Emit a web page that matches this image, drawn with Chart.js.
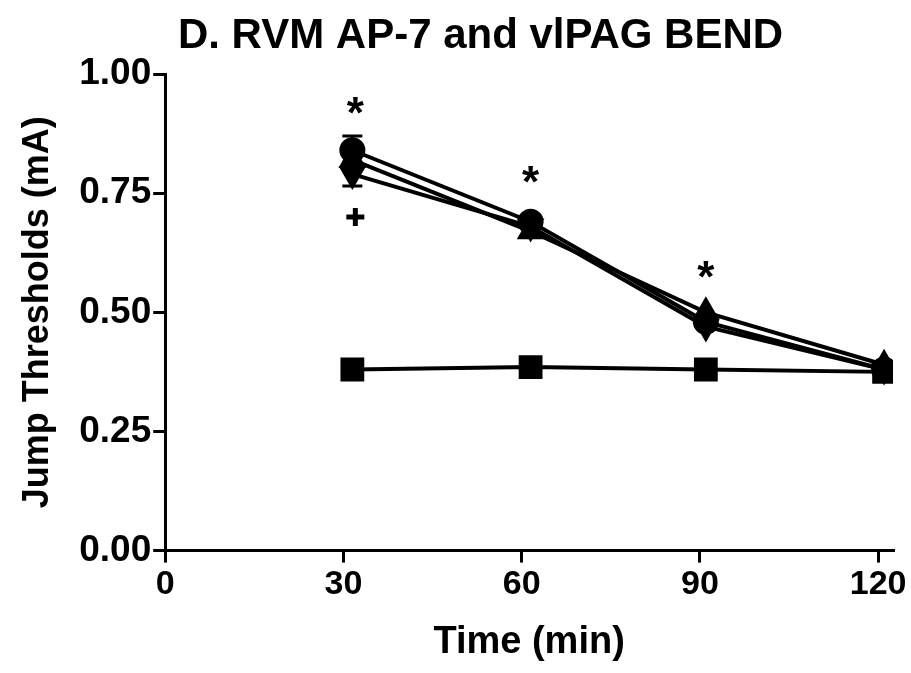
<!DOCTYPE html>
<html>
<head>
<meta charset="utf-8">
<script src="https://cdn.jsdelivr.net/npm/chart.js@4/dist/chart.umd.min.js"></script>
<style>
  body { margin: 0; background: #fff; }
</style>
</head>
<body>
<canvas id="myChart" width="911" height="673"></canvas>
<script>
// data (time in min, thresholds in mA)
const times = [31.5, 61.5, 91, 121];
const circles = [0.84, 0.69, 0.48, 0.38];
const upTriangles = [0.82, 0.67, 0.50, 0.39];
const downTriangles = [0.79, 0.68, 0.47, 0.38];
const squares = [0.38, 0.385, 0.38, 0.375];
const xTicks = [0, 30, 60, 90, 120];
const yTicks = [0, 0.25, 0.5, 0.75, 1];

// error bars: [x, y, sem]
const errBars = [[31.5, 0.84, 0.03], [31.5, 0.79, 0.025]];
// significance marks
const starX = [32, 61.5, 91];
const starY = [0.943, 0.798, 0.599];
const plusX = [32];
const plusY = [0.70];

const titleText = 'D. RVM AP-7 and vlPAG BEND';

const toPts = (ys) => ys.map((y, i) => ({ x: times[i], y: y }));

function serie(data, style, rot, r) {
    return {
        data: toPts(data),
        borderColor: '#000',
        backgroundColor: '#000',
        borderWidth: 4,
        pointStyle: style,
        rotation: rot,
        pointRadius: r,
        pointHoverRadius: r,
        showLine: true,
        tension: 0
    };
}

const font = '"Liberation Sans", Arial, sans-serif';

// title, error bars and asterisks
const marks = {
    id: 'marks',
    afterDatasetsDraw(chart) {
        const ctx = chart.ctx;
        const xs = chart.scales.x, ys = chart.scales.y;
        ctx.save();
        ctx.strokeStyle = '#000';
        ctx.lineWidth = 3;
        errBars.forEach(([x, y, e]) => {
            const px = xs.getPixelForValue(x);
            const top = ys.getPixelForValue(y + e);
            const bot = ys.getPixelForValue(y - e);
            ctx.beginPath();
            ctx.moveTo(px, top); ctx.lineTo(px, bot);
            ctx.moveTo(px - 10, top); ctx.lineTo(px + 10, top);
            ctx.moveTo(px - 10, bot); ctx.lineTo(px + 10, bot);
            ctx.stroke();
        });
        ctx.fillStyle = '#000';
        ctx.textAlign = 'center';
        ctx.textBaseline = 'middle';
        ctx.font = 'bold 44px ' + font;
        starX.forEach((x, i) => {
            ctx.fillText('*', xs.getPixelForValue(x), ys.getPixelForValue(starY[i]) + 15);
        });
        ctx.font = 'bold 42px ' + font;
        ctx.fillText(titleText, chart.width / 2 + 25, 36);
        ctx.restore();
    }
};

new Chart(document.getElementById('myChart'), {
    type: 'scatter',
    data: {
        datasets: [
            serie(circles, 'circle', 0, 11),
            serie(upTriangles, 'triangle', 0, 12),
            serie(downTriangles, 'triangle', 180, 12),
            serie(squares, 'rect', 0, 14),
            {
                data: plusX.map((x, i) => ({ x: x, y: plusY[i] })),
                pointStyle: 'cross',
                pointRadius: 9,
                borderWidth: 5,
                borderColor: '#000',
                showLine: false
            }
        ]
    },
    options: {
        responsive: false,
        animation: false,
        layout: { padding: { left: 16, right: 0, bottom: 8, top: 74 } },
        plugins: {
            legend: { display: false },
            tooltip: { enabled: false },
            title: { display: false }
        },
        scales: {
            x: {
                type: 'linear',
                min: 0,
                max: 122.5,
                afterBuildTicks: (s) => { s.ticks = xTicks.map(v => ({ value: v })); },
                border: { display: true, color: '#000', width: 3 },
                grid: { display: true, drawOnChartArea: false, drawTicks: true, tickLength: 12, color: '#000', lineWidth: 3 },
                ticks: { color: '#000', font: { family: font, size: 34, weight: 'bold' }, padding: 2 },
                title: {
                    display: true,
                    text: 'Time (min)',
                    color: '#000',
                    font: { family: font, size: 38, weight: 'bold' },
                    padding: { top: 12, bottom: 0 }
                }
            },
            y: {
                type: 'linear',
                min: 0,
                max: 1,
                afterBuildTicks: (s) => { s.ticks = yTicks.map(v => ({ value: v })); },
                border: { display: true, color: '#000', width: 3 },
                grid: { display: true, drawOnChartArea: false, drawTicks: true, tickLength: 12, color: '#000', lineWidth: 3 },
                ticks: {
                    color: '#000',
                    font: { family: font, size: 37, weight: 'bold' },
                    padding: 2,
                    callback: (v) => Number(v).toFixed(2)
                },
                title: {
                    display: true,
                    text: 'Jump Thresholds (mA)',
                    color: '#000',
                    font: { family: font, size: 36, weight: 'bold' },
                    padding: { top: 0, bottom: 18 }
                }
            }
        }
    },
    plugins: [marks]
});
</script>
</body>
</html>
